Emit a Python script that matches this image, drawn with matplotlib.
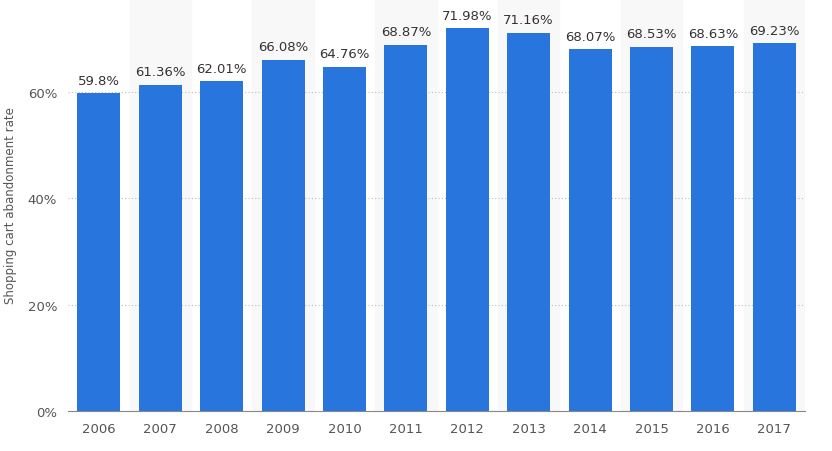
import matplotlib.pyplot as plt
import numpy as np

years = ["2006", "2007", "2008", "2009", "2010", "2011", "2012", "2013", "2014", "2015", "2016", "2017"]
rates = [59.8, 61.36, 62.01, 66.08, 64.76, 68.87, 71.98, 71.16, 68.07, 68.53, 68.63, 69.23]
labels = ["59.8%", "61.36%", "62.01%", "66.08%", "64.76%", "68.87%", "71.98%", "71.16%",
          "68.07%", "68.53%", "68.63%", "69.23%"]

fig = plt.figure(figsize=(8.32, 4.52), dpi=100)
ax = fig.add_axes([0.082, 0.0885, 0.8855, 0.9115])
x = np.arange(len(years))

for i in x[1::2]:
    ax.axvspan(i - 0.5, i + 0.5, color="#f8f8f8", zorder=0)

ax.bar(x, rates, width=0.7, color="#2775dd", zorder=3)
for xi, v, lab in zip(x, rates, labels):
    ax.text(xi, v + 1.2, lab, ha="center", va="bottom", fontsize=9.5, color="#333333", zorder=4)

ax.set_xlim(-0.5, len(years) - 0.5)
ax.set_ylim(0, 77.5)
ax.set_yticks([0, 20, 40, 60])
ax.set_yticklabels(["0%", "20%", "40%", "60%"])
ax.set_xticks(x)
ax.set_xticklabels(years)
ax.yaxis.grid(True, linestyle=(0, (1, 2)), color="#bbbbbb", linewidth=0.8, zorder=1)
ax.tick_params(axis="both", length=0, labelsize=9.5, colors="#555555", pad=8)
for s in ["top", "right", "left"]:
    ax.spines[s].set_visible(False)
ax.spines["bottom"].set_color("#888888")
ax.set_ylabel("Shopping cart abandonment rate", fontsize=8.5, color="#555555", labelpad=8)

fig.savefig("out.png", dpi=100)
